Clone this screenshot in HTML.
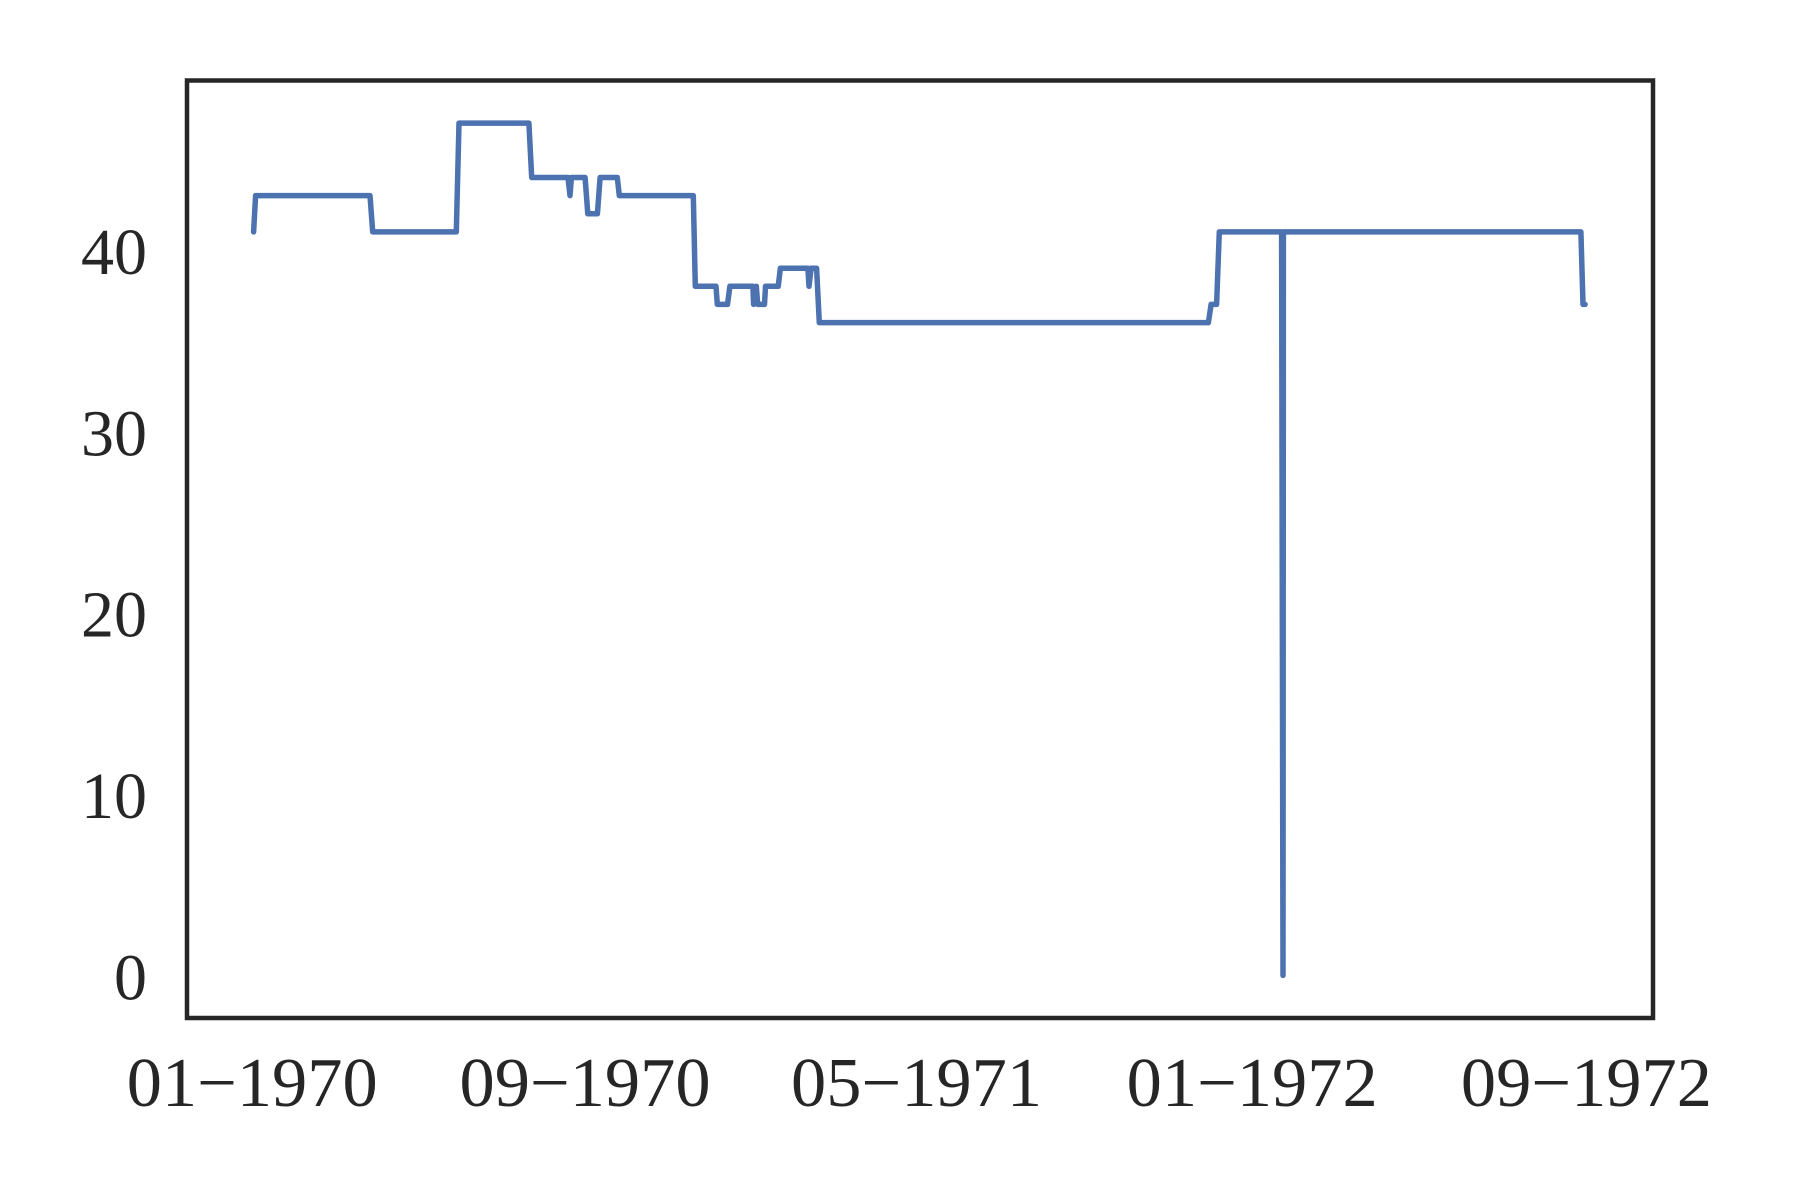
<!DOCTYPE html>
<html><head><meta charset="utf-8"><style>
html,body{margin:0;padding:0;background:#fff;}
svg{display:block;}
text{font-family:"Liberation Serif","DejaVu Serif",serif;fill:#262626;}
</style></head><body>
<svg id="chart" width="1800" height="1200" viewBox="0 0 1800 1200">
<rect x="0" y="0" width="1800" height="1200" fill="#fff"/>
<g id="marks"></g>
<rect x="187" y="80.5" width="1466" height="937.5" fill="none" stroke="#262626" stroke-width="4.5"/>
<g id="yticks"></g>
<g id="xticks"></g>
</svg>
<script>
// days since 1970-01-01
const days = [1,2.5,86,88,149,151,202,204,230.5,232,233,243,245,252,254,266.5,268,322,323.5,338.6,339.5,347,348.7,365.5,366,368,369,374,374.7,384,385.6,405.7,406.5,408,412,414,698,700,704,706,751.5,752.5,752.8,970,971.5,973];
const values = [41,43,43,41,41,47,47,44,44,43,44,44,42,42,44,44,43,43,38,38,37,37,38,38,37,38,37,37,38,38,39,39,38,39,39,36,36,37,37,41,41,0,41,41,37,37];
const yTicks = [0,10,20,30,40];
const xTickDays = [0,243,485,730,974];
const xTickLabels = ["01\u22121970","09\u22121970","05\u22121971","01\u22121972","09\u22121972"];

const L=187, R=1653, T=80.5, B=1018;
const xMin=-47.6, xMax=1022.6, yMin=-2.35, yMax=49.35;
const X = d => L + (d - xMin) / (xMax - xMin) * (R - L);
const Y = v => B - (v - yMin) / (yMax - yMin) * (B - T);
const NS = "http://www.w3.org/2000/svg";

const marks = document.getElementById('marks');
const path = document.createElementNS(NS, 'path');


path.setAttribute('d', days.map((d,i)=>(i?'L':'M')+X(d).toFixed(1)+','+Y(values[i]).toFixed(1)).join(' '));
path.setAttribute('fill','none');
path.setAttribute('stroke','#4c72b0');
path.setAttribute('stroke-width','5.5');
path.setAttribute('stroke-linecap','round');
path.setAttribute('stroke-linejoin','round');
marks.appendChild(path);

const yg = document.getElementById('yticks');
yTicks.forEach(v=>{
  const t = document.createElementNS(NS,'text');
  
  
  const s = String(v);
  const w = s.length * 33;
  t.setAttribute('x', 147 - w);
  t.setAttribute('y', Y(v) + 24);
  t.setAttribute('font-size','66');
  t.setAttribute('textLength', w);
  t.setAttribute('lengthAdjust','spacingAndGlyphs');
  t.textContent = s;
  yg.appendChild(t);
});
const xg = document.getElementById('xticks');
xTickDays.forEach((d,i)=>{
  const t = document.createElementNS(NS,'text');
  
  
  t.setAttribute('x', X(d) - 125.5);
  t.setAttribute('y', 1106);
  t.setAttribute('font-size','70');
  t.setAttribute('textLength', 251);
  t.setAttribute('lengthAdjust','spacingAndGlyphs');
  t.textContent = xTickLabels[i];
  xg.appendChild(t);
});
</script>
</body></html>
